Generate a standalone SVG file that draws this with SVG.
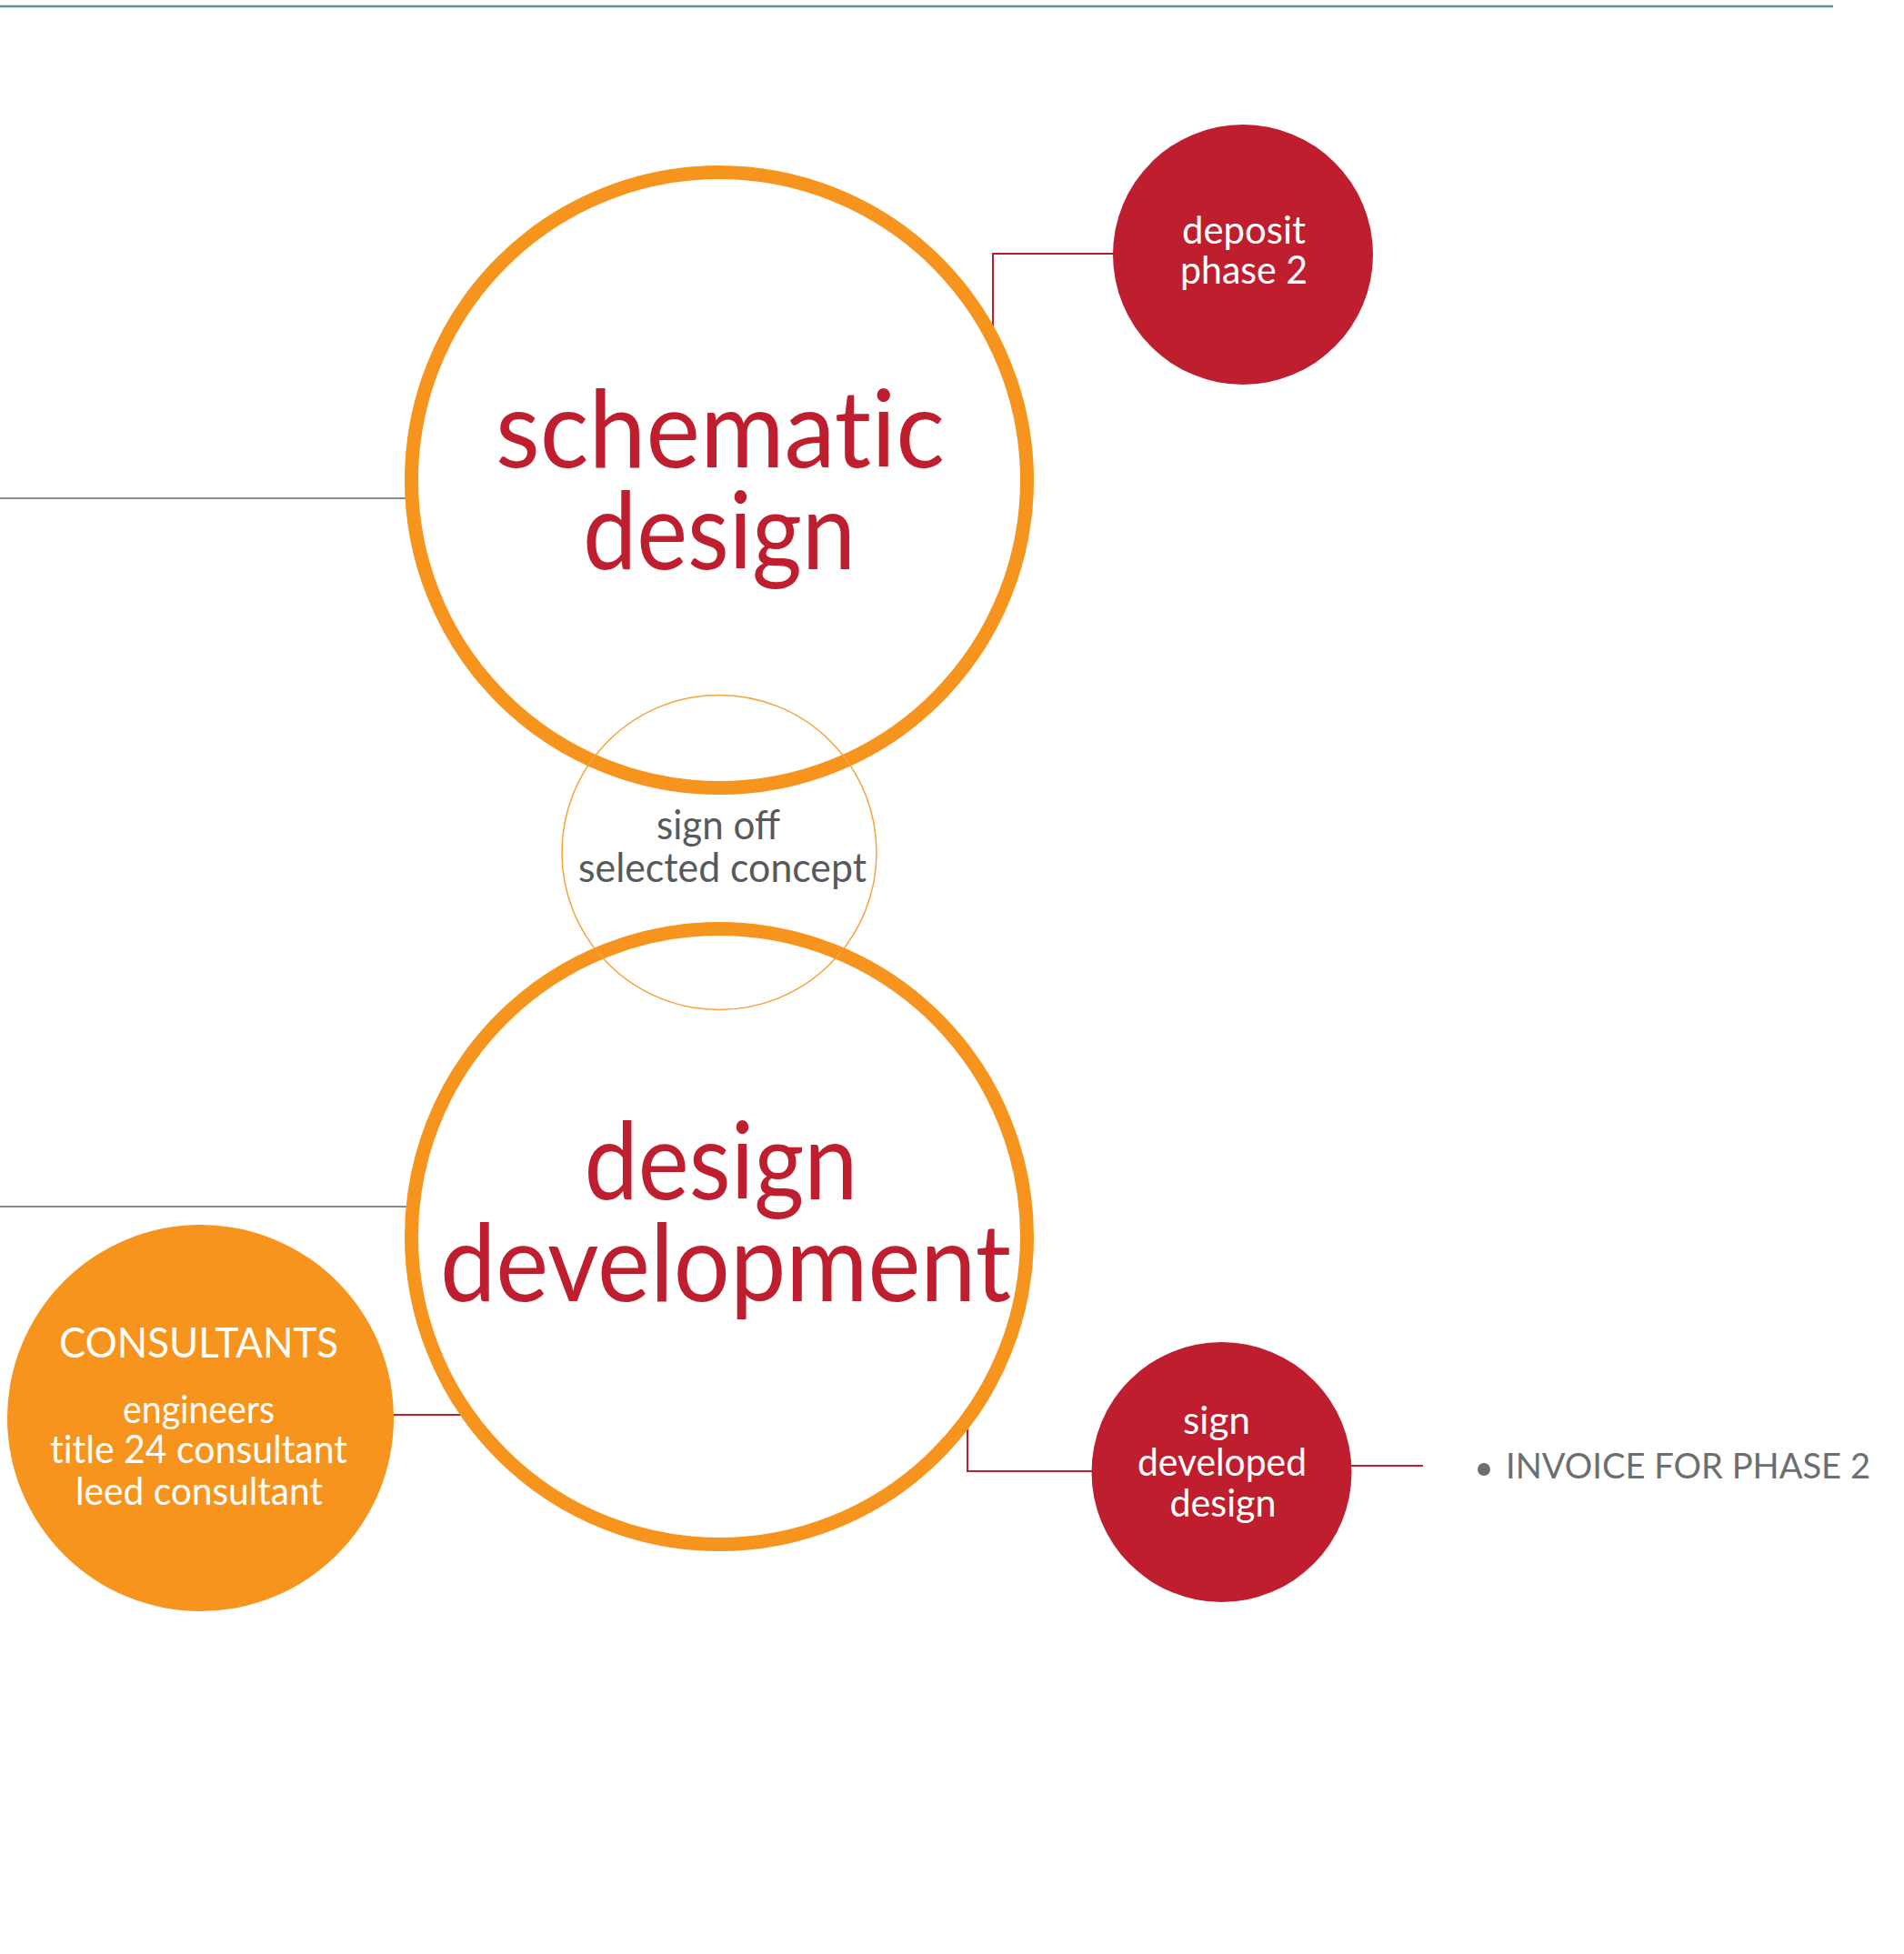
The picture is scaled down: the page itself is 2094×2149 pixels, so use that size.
<svg xmlns="http://www.w3.org/2000/svg" width="2094" height="2149" viewBox="0 0 2094 2149">
<style>
.t{font-family:Lato,"Open Sans","Liberation Sans",sans-serif;text-anchor:middle;font-variant-ligatures:no-common-ligatures}
.lig{font-variant-ligatures:common-ligatures}
.big{font-size:118px;fill:#be1e2d}
.wh{font-size:43px;fill:#ffffff}
.gr{font-size:44px;fill:#58595b}
.ring{fill:none;stroke:#f7941d;stroke-width:15}
.red{fill:none;stroke:#be1e2d;stroke-width:2}
.gl{fill:none;stroke:#8a8a8a;stroke-width:2}
</style>
<rect width="2094" height="2149" fill="#ffffff"/>
<line x1="0" y1="7" x2="2016" y2="7" stroke="#5a90a8" stroke-width="2.5"/>
<g id="connectors">
<line class="gl" x1="0" y1="548" x2="446" y2="548"/>
<line class="gl" x1="0" y1="1327" x2="447" y2="1327"/>
<polyline class="red" points="1092,362 1092,279 1225,279"/>
<line class="red" x1="432" y1="1556" x2="508" y2="1556"/>
<polyline class="red" points="1064,1572 1064,1618 1202,1618"/>
<line class="red" x1="1485" y1="1612" x2="1565" y2="1612"/>
</g>
<g id="schematic-design">
<circle class="ring" cx="791" cy="528" r="338.5"/>
<text class="t big" x="792" y="514" textLength="494" lengthAdjust="spacingAndGlyphs">schematic</text>
<text class="t big" x="791" y="626" textLength="300" lengthAdjust="spacingAndGlyphs">design</text>
</g>
<g id="design-development">
<circle class="ring" cx="791" cy="1360" r="338.5"/>
<text class="t big" x="793" y="1319" textLength="301" lengthAdjust="spacingAndGlyphs">design</text>
<text class="t big" x="798" y="1431" textLength="628" lengthAdjust="spacingAndGlyphs">development</text>
</g>
<g id="sign-off">
<circle cx="791" cy="937.5" r="173" fill="none" stroke="#f7a23a" stroke-width="1.5"/>
<text class="t gr lig" x="790" y="923" textLength="136" lengthAdjust="spacingAndGlyphs">sign off</text>
<text class="t gr" x="794.5" y="970" textLength="317" lengthAdjust="spacingAndGlyphs">selected concept</text>
</g>
<g id="deposit">
<circle cx="1367" cy="280" r="143" fill="#be1e2d"/>
<text class="t wh" x="1368" y="268" textLength="136" lengthAdjust="spacingAndGlyphs">deposit</text>
<text class="t wh" x="1368" y="312" textLength="140" lengthAdjust="spacingAndGlyphs">phase 2</text>
</g>
<g id="consultants">
<circle cx="220.5" cy="1559.5" r="212.5" fill="#f7941d"/>
<text class="t" x="218.5" y="1493" font-size="46" fill="#ffffff" textLength="307" lengthAdjust="spacingAndGlyphs">CONSULTANTS</text>
<text class="t wh" x="218.5" y="1565" textLength="167" lengthAdjust="spacingAndGlyphs">engineers</text>
<text class="t wh" x="218.5" y="1609" textLength="327" lengthAdjust="spacingAndGlyphs">title 24 consultant</text>
<text class="t wh" x="219" y="1655" textLength="272" lengthAdjust="spacingAndGlyphs">leed consultant</text>
</g>
<g id="sign-developed">
<circle cx="1343.5" cy="1619" r="143" fill="#be1e2d"/>
<text class="t wh" x="1338" y="1577" textLength="74" lengthAdjust="spacingAndGlyphs">sign</text>
<text class="t wh" x="1344" y="1623" textLength="186" lengthAdjust="spacingAndGlyphs">developed</text>
<text class="t wh" x="1345" y="1668" textLength="117" lengthAdjust="spacingAndGlyphs">design</text>
</g>
<g id="invoice">
<circle cx="1632" cy="1616" r="7" fill="#6d6e71"/>
<text x="1656" y="1626" font-family="Lato,'Open Sans','Liberation Sans',sans-serif" font-size="39" fill="#6d6e71" textLength="401" lengthAdjust="spacingAndGlyphs">INVOICE FOR PHASE 2</text>
</g>
</svg>
